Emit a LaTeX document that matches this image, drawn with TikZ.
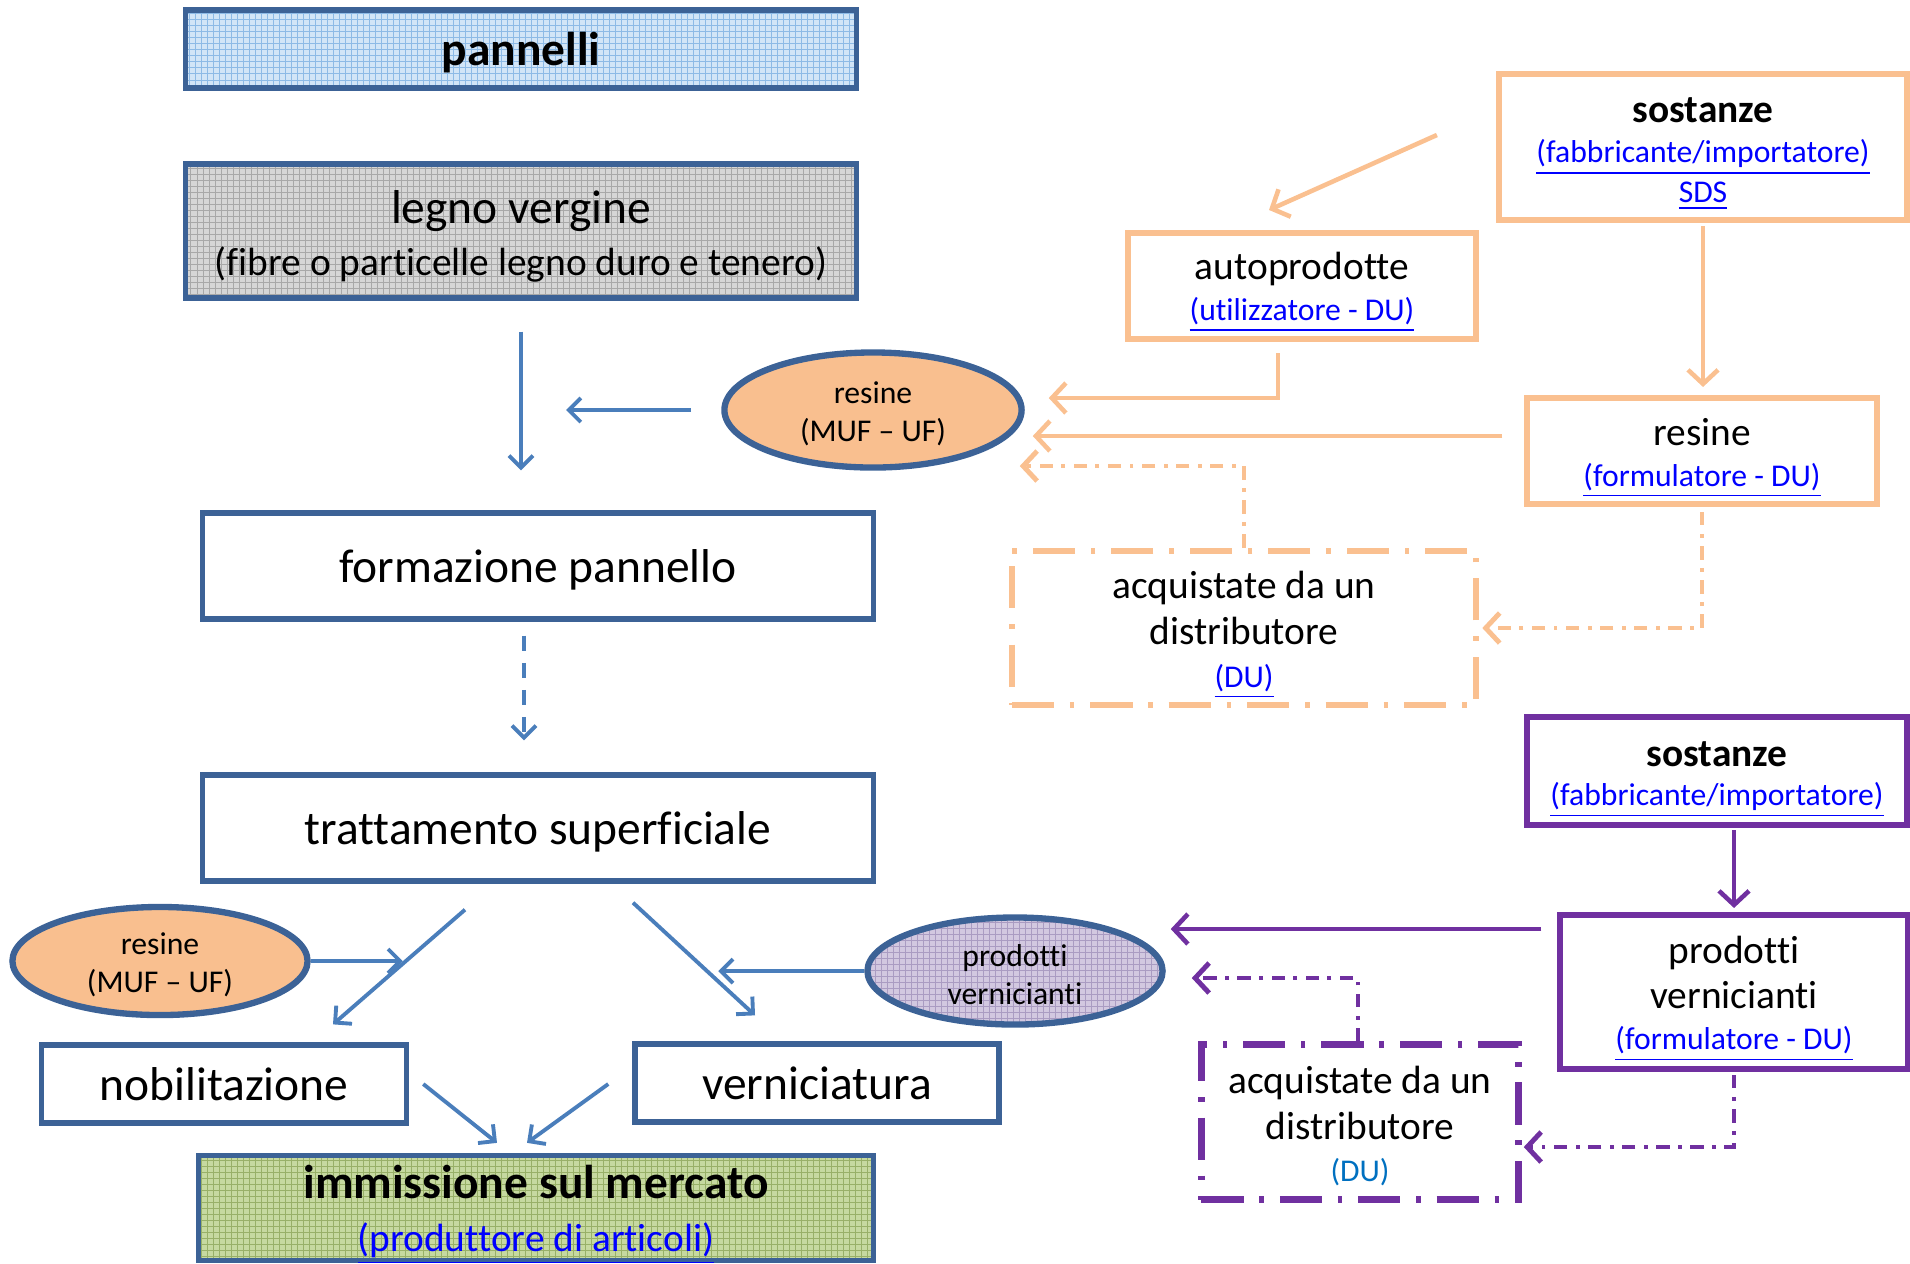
\documentclass[tikz,border=0pt]{standalone}
\usepackage{fontspec}
\setmainfont{Carlito}[Ligatures={TeX,NoCommon}]
\usepackage{tikz}
\usetikzlibrary{positioning, shapes.geometric, arrows.meta, calc}

\definecolor{boxblue}{HTML}{3C6296}
\definecolor{arrowblue}{HTML}{4A7EBB}
\definecolor{lightorange}{HTML}{FAC090}
\definecolor{resinfill}{HTML}{F9BF8F}
\definecolor{darkpurple}{HTML}{7030A0}
\definecolor{linkblue}{HTML}{0000FF}
\definecolor{dublue}{HTML}{0070C0}
\definecolor{panelblue}{HTML}{D2E5F7}
\definecolor{panelgrid}{HTML}{8DBAE6}
\definecolor{woodgray}{HTML}{D6D6D6}
\definecolor{woodgrid}{HTML}{A8A8A8}
\definecolor{marketgreen}{HTML}{C6D9A0}
\definecolor{marketgrid}{HTML}{98B068}
\definecolor{paintfill}{HTML}{D2C8E0}
\definecolor{paintgrid}{HTML}{AA9CC2}

\newcommand{\fbig}{\fontsize{13.5}{16}\selectfont}
\newcommand{\fsmall}{\fontsize{9}{11}\selectfont}
\newcommand{\weblink}[1]{\textcolor{linkblue}{\underline{#1}}}
% lower a line of text without changing its box
\newcommand{\dn}[2][2pt]{\raisebox{-#1}[\height][\depth]{#2}}

\tikzset{
    blue_box/.style={draw=boxblue, line width=1.5pt, inner sep=0pt, align=center},
    orange_box/.style={draw=lightorange, line width=1.7pt, inner sep=0pt, align=center},
    purple_box/.style={draw=darkpurple, line width=1.7pt, inner sep=0pt, align=center},
    dashdot_box/.style={line width=1.8pt, dash pattern=on 12pt off 4.5pt on 1.3pt off 4.5pt, inner sep=0pt, align=center},
    resin/.style={ellipse, draw=boxblue, line width=1.8pt, fill=resinfill, inner sep=0pt, align=center, font=\fontsize{9}{10.8}\selectfont},
    grid_fill/.style 2 args={fill=#1, path picture={
        \draw[#2, line width=0.25pt] (path picture bounding box.south west) grid[step=0.06cm] (path picture bounding box.north east);
    }},
    blue_arrow/.style={arrowblue, line width=1.1pt, -{Straight Barb[length=1.2mm, width=2.4mm]}},
    blue_dashed/.style={blue_arrow, dash pattern=on 4.3pt off 3.4pt},
    orange_arrow/.style={lightorange, line width=1.3pt, -{Straight Barb[length=1.4mm, width=3mm]}},
    orange_dashdot/.style={orange_arrow, line width=1.4pt, dash pattern=on 3.8pt off 2.4pt on 1.1pt off 2.4pt},
    purple_arrow/.style={darkpurple, line width=1.3pt, -{Straight Barb[length=1.4mm, width=3mm]}},
    purple_dashdot/.style={purple_arrow, line width=1.4pt, dash pattern=on 3.8pt off 2.4pt on 1.1pt off 2.4pt}
}

\begin{document}
\begin{tikzpicture}[x=0.01cm, y=-0.01cm]
      \useasboundingbox (0,0) rectangle (1910,1263);

      % --- Main process ---
      \node (pannelli) [blue_box, grid_fill={panelblue}{panelgrid}, minimum width=6.7cm, minimum height=0.78cm, font=\fbig\bfseries] at (521,49) {\dn[1pt]{pannelli}};
      \node (legno) [blue_box, grid_fill={woodgray}{woodgrid}, minimum width=6.7cm, minimum height=1.34cm, font=\fontsize{11.2}{14.8}\selectfont] at (521,231)
          {\dn[1.5pt]{\fbig legno vergine}\\\dn[1.5pt]{(fibre o particelle legno duro e tenero)}};
      \node (formazione) [blue_box, minimum width=6.7cm, minimum height=1.06cm, font=\fbig] at (538,566) {\dn[1pt]{formazione pannello}};
      \node (trattamento) [blue_box, minimum width=6.7cm, minimum height=1.06cm, font=\fbig] at (538,828) {\dn[1pt]{trattamento superficiale}};
      \node (nobilitazione) [blue_box, minimum width=3.65cm, minimum height=0.78cm, font=\fbig] at (224,1084) {nobilitazione};
      \node (verniciatura) [blue_box, minimum width=3.64cm, minimum height=0.78cm, font=\fbig] at (817,1083) {verniciatura};
      \node (immissione) [blue_box, grid_fill={marketgreen}{marketgrid}, minimum width=6.74cm, minimum height=1.05cm, font=\fontsize{11.2}{14.9}\selectfont] at (536,1208)
          {\dn{\fbig\bfseries immissione sul mercato}\\\dn{\weblink{(produttore di articoli)}}};

      % --- Ellipses ---
      \node (resineA) [resin, minimum width=2.97cm, minimum height=1.15cm] at (873,410) {\dn[1pt]{resine}\\\dn[1pt]{(MUF -- UF)}};
      \node (resineB) [resin, minimum width=2.95cm, minimum height=1.08cm] at (160,961) {\dn[1pt]{resine}\\\dn[1pt]{(MUF -- UF)}};
      \node (vernici) [resin, grid_fill={paintfill}{paintgrid}, minimum width=2.95cm, minimum height=1.07cm] at (1015,971) {\dn[1pt]{prodotti}\\\dn[1pt]{vernicianti}};

      % --- Resin suppliers ---
      \node (sostanzeA) [orange_box, minimum width=4.08cm, minimum height=1.46cm, font=\fontsize{11.2}{11.4}\selectfont] at (1703,147)
          {\dn{\bfseries sostanze}\\\dn{\fsmall\weblink{(fabbricante/importatore)}}\\\dn{\fsmall\weblink{SDS}}};
      \node (autoprod) [orange_box, minimum width=3.48cm, minimum height=1.06cm, font=\fontsize{11.2}{11.7}\selectfont] at (1302,286)
          {\dn[1.8pt]{autoprodotte}\\\dn[1.8pt]{\fsmall\weblink{(utilizzatore - DU)}}};
      \node (resineF) [orange_box, minimum width=3.49cm, minimum height=1.06cm, font=\fontsize{11.2}{11.6}\selectfont] at (1702,451)
          {\dn[2pt]{resine}\\\dn[2pt]{\fsmall\weblink{(formulatore - DU)}}};
      \node (acquistA) [dashdot_box, draw=lightorange, minimum width=4.64cm, minimum height=1.54cm, font=\fontsize{11.2}{13}\selectfont] at (1244,628)
          {\dn[2.4pt]{acquistate da un}\\\dn[2.4pt]{distributore}\\\dn[1.6pt]{\fsmall\weblink{(DU)}}};

      % --- Paint suppliers ---
      \node (sostanzeB) [purple_box, minimum width=3.8cm, minimum height=1.08cm, font=\fontsize{11.2}{11.2}\selectfont] at (1717,771)
          {\dn[2.4pt]{\bfseries sostanze}\\\dn[2.4pt]{\fsmall\weblink{(fabbricante/importatore)}}};
      \node (vernicF) [purple_box, minimum width=3.47cm, minimum height=1.54cm, font=\fontsize{11.2}{12.8}\selectfont] at (1734,992)
          {\dn[2.3pt]{prodotti}\\\dn[2.3pt]{vernicianti}\\\dn[1.4pt]{\fsmall\weblink{(formulatore - DU)}}};
      \node (acquistB) [dashdot_box, draw=darkpurple, minimum width=3.17cm, minimum height=1.55cm, font=\fontsize{11.2}{12.8}\selectfont] at (1360,1122)
          {\dn[1.5pt]{acquistate da un}\\\dn[1.8pt]{distributore}\\\dn[0.8pt]{\fsmall\textcolor{dublue}{(DU)}}};

      % --- Main flow arrows ---
      \draw[blue_arrow, shorten <=0.31cm, shorten >=0.4cm] (legno.south) -- (legno.south |- formazione.north);
      \draw[blue_arrow, shorten <=0.3cm, shorten >=0.45cm] (resineA.west) -- (resineA.west -| legno.south);
      \draw[blue_dashed, shorten <=0.14cm, shorten >=0.32cm] ([xshift=-0.14cm]formazione.south) -- ([xshift=-0.14cm]trattamento.north);
      \draw[blue_arrow] ([shift={(-73,26)}]trattamento.south) -- ([shift={(109,-18)}]nobilitazione.north);
      \draw[blue_arrow] (resineB.east) -- ++(92,0);
      \draw[blue_arrow] ([shift={(95,19)}]trattamento.south) -- ([shift={(-62,-26)}]verniciatura.north);
      \draw[blue_arrow] (vernici.west) -- ++(-146,0);
      \draw[blue_arrow] ([shift={(14,0)}]nobilitazione.east) -- ([shift={(-39,-10)}]immissione.north);
      \draw[blue_arrow] ([shift={(-24,1)}]verniciatura.west) -- ([shift={(-9,-10)}]immissione.north);

      % --- Resin supply arrows ---
      \draw[orange_arrow] ([shift={(-59,-12)}]sostanzeA.west) -- ([shift={(-33,-20)}]autoprod.north);
      \draw[orange_arrow] ([shift={(-24,11)}]autoprod.south) |- ([shift={(24,-12)}]resineA.east);
      \draw[orange_arrow, shorten <=0.03cm, shorten >=0.08cm] (sostanzeA.south) -- (sostanzeA.south |- resineF.north);
      \draw[orange_arrow] ([shift={(-22,-15)}]resineF.west) -- ([shift={(8,26)}]resineA.east);
      \draw[orange_dashdot] (acquistA.north) |- ([shift={(-5,56)}]resineA.east);
      \draw[orange_dashdot, shorten <=0.05cm] (resineF.south) |- ([xshift=0.03cm]acquistA.east);

      % --- Paint supply arrows ---
      \draw[purple_arrow, shorten <=0.02cm, shorten >=0.04cm] (sostanzeB.south -| vernicF.north) -- (vernicF.north);
      \draw[purple_arrow] ([shift={(-16,-63)}]vernicF.west) -- ([shift={(5,-42)}]vernici.east);
      \draw[purple_dashdot] ([xshift=-0.02cm]acquistB.north) |- ([shift={(26,7)}]vernici.east);
      \draw[purple_dashdot, shorten <=0.03cm] (vernicF.south) |- ([shift={(2,25)}]acquistB.east);
  \end{tikzpicture}
\end{document}
